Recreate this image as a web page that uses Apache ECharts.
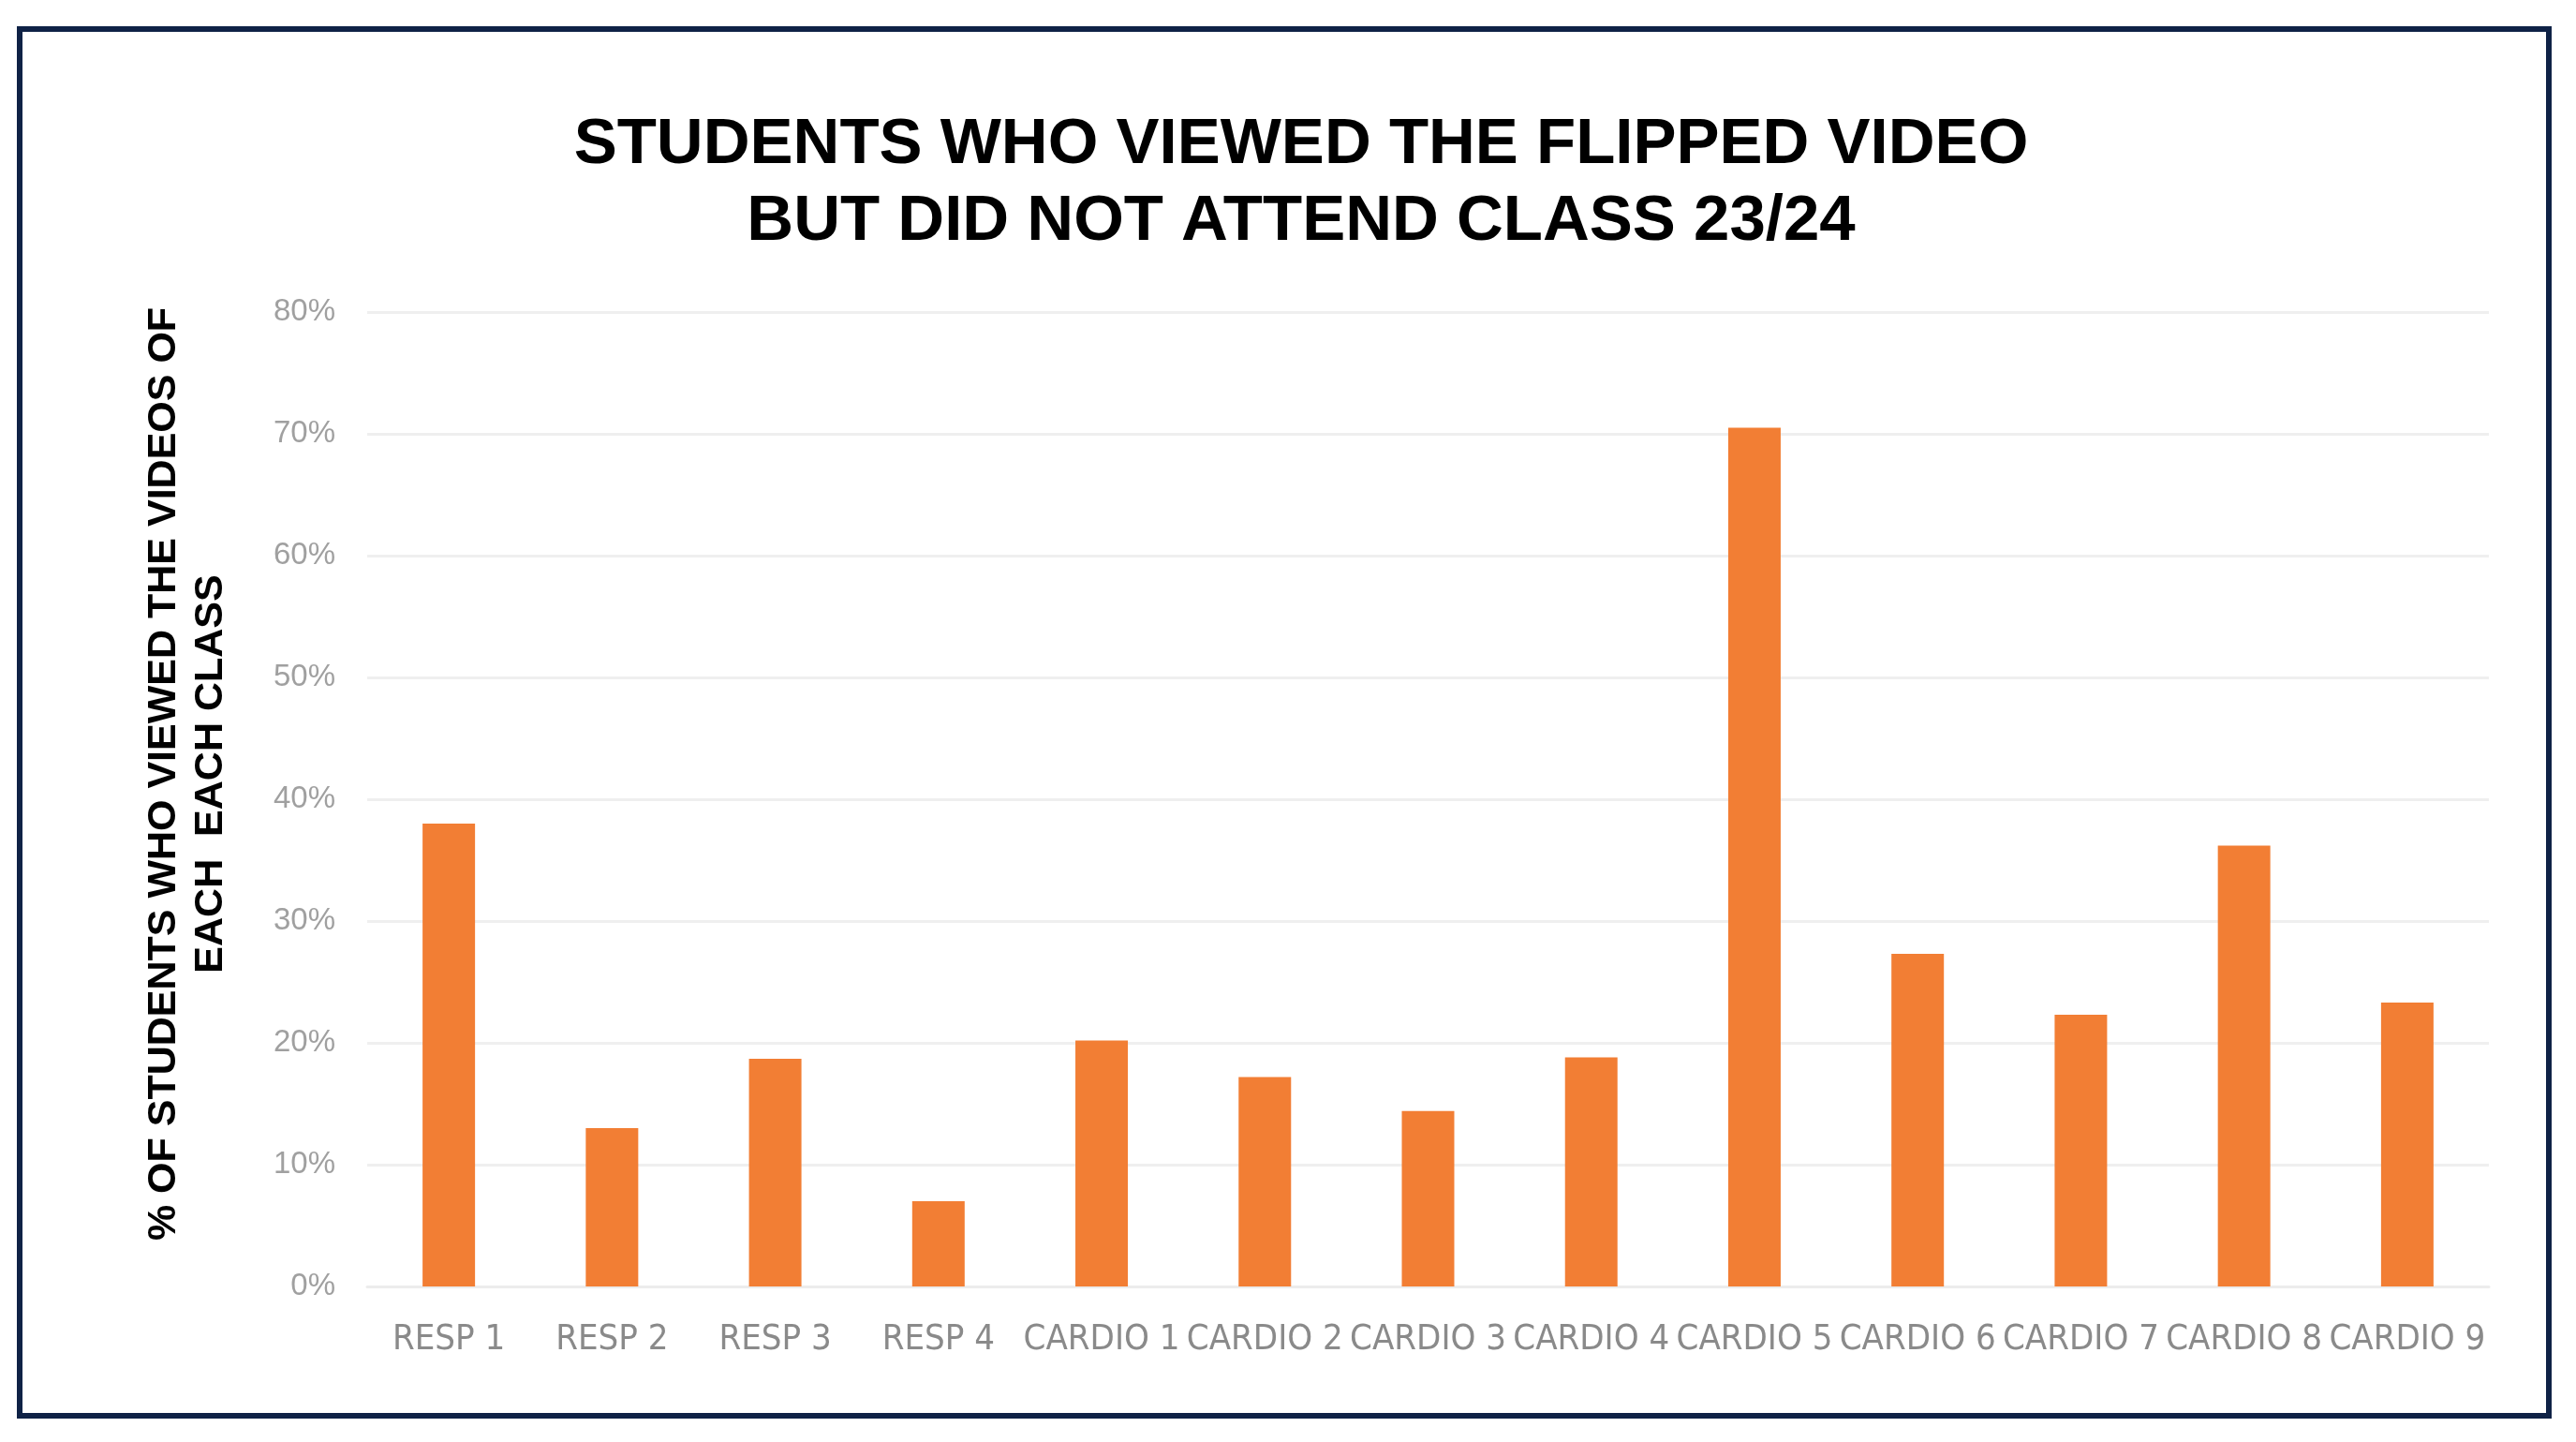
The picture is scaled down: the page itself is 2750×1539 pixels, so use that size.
<!DOCTYPE html>
<html>
<head>
<meta charset="utf-8">
<script src="https://cdn.jsdelivr.net/npm/echarts@6/dist/echarts.min.js"></script>
<style>
html, body { margin: 0; padding: 0; background: #fff; }
#main { width: 2750px; height: 1539px; }
</style>
</head>
<body>
<div id="main"></div>
<script>
// classes on the x axis
var classes = ['RESP 1', 'RESP 2', 'RESP 3', 'RESP 4', 'CARDIO 1', 'CARDIO 2', 'CARDIO 3',
	'CARDIO 4', 'CARDIO 5', 'CARDIO 6', 'CARDIO 7', 'CARDIO 8', 'CARDIO 9'];
// % of students who viewed the video but did not attend
var viewedNotAttended = [38.0, 13.0, 18.7, 7.0, 20.2, 17.2, 14.4, 18.8, 70.5, 27.3, 22.3, 36.2, 23.3];
var yTicks = [0, 10, 20, 30, 40, 50, 60, 70, 80];

var chartTitle = 'STUDENTS WHO VIEWED THE FLIPPED VIDEO\nBUT DID NOT ATTEND CLASS 23/24';
var yTitle = '% OF STUDENTS WHO VIEWED THE VIDEOS OF\nEACH  EACH CLASS';

var myChart = echarts.init(document.getElementById('main'));

var option = {
	backgroundColor: '#ffffff',
	animation: false,
	title: {
		text: chartTitle,
		left: 1389,
		top: 114,
		textAlign: 'center',
		padding: 0,
		textStyle: {
			fontFamily: 'Liberation Sans, Arial, sans-serif',
			fontWeight: 'bold',
			fontSize: 69,
			lineHeight: 82,
			color: '#000000'
		}
	},
	grid: {
		left: 392,
		right: 93,
		top: 333,
		bottom: 166
	},
	xAxis: {
		type: 'category',
		data: classes,
		axisLine: { show: true, lineStyle: { color: '#ececec', width: 3 } },
		axisTick: { show: false },
		axisLabel: {
			interval: 0,
			margin: 38,
			color: '#8a8a8a',
			fontSize: 38,
			fontFamily: 'DejaVu Sans Condensed, Liberation Sans Narrow, sans-serif'
		}
	},
	yAxis: {
		type: 'value',
		min: yTicks[0],
		max: yTicks[yTicks.length - 1],
		interval: 10,
		axisLine: { show: false },
		axisTick: { show: false },
		axisLabel: {
			formatter: '{value}%',
			margin: 34,
			color: '#a0a0a0',
			fontSize: 33,
			fontFamily: 'Liberation Sans, Arial, sans-serif'
		},
		splitLine: { lineStyle: { color: '#efefef', width: 3 } }
	},
	series: [{
		type: 'bar',
		data: viewedNotAttended,
		barWidth: 56,
		itemStyle: { color: '#f27e34' }
	}],
	graphic: [{
		type: 'rect',
		shape: { x: 21, y: 31, width: 2700, height: 1480 },
		style: { fill: null, stroke: '#0f2246', lineWidth: 6 },
		silent: true
	}, {
		type: 'text',
		x: 200,
		y: 826,
		rotation: Math.PI / 2,
		style: {
			text: yTitle,
			align: 'center',
			verticalAlign: 'middle',
			fontFamily: 'Liberation Sans, Arial, sans-serif',
			fontWeight: 'bold',
			fontSize: 43,
			lineHeight: 50,
			fill: '#000000'
		}
	}]
};

//装载
myChart.setOption(option);
</script>
</body>
</html>
